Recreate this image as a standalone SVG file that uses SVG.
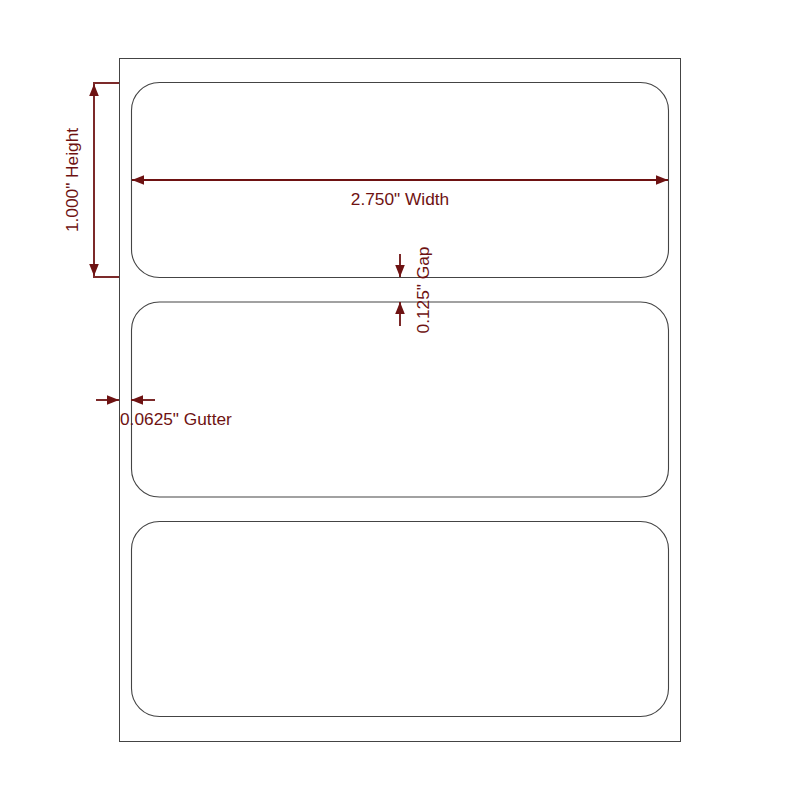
<svg xmlns="http://www.w3.org/2000/svg" width="800" height="800" viewBox="0 0 800 800">
<style>
.page{fill:#fff;stroke:#444;stroke-width:1}
.lbl{fill:#fff;stroke:#444;stroke-width:1.1}
.dim{stroke:#6e1212;stroke-width:1.8;fill:none}
.t{font-family:"Liberation Sans",Arial,sans-serif;font-size:17.3px;fill:#6e1212}
</style>
<defs>
<marker id="a" viewBox="0 0 10 10" refX="10" refY="5" markerWidth="12" markerHeight="12" orient="auto-start-reverse" markerUnits="userSpaceOnUse">
<path d="M0,1 L10,5 L0,9 Z" fill="#6e1212"/>
</marker>
</defs>
<rect id="page" class="page" x="119.5" y="58.5" width="561" height="683"/>
<g id="label1"><rect class="lbl" x="131.5" y="82.5" width="537" height="195" rx="28" ry="28"/></g>
<g id="label2"><rect class="lbl" x="131.5" y="302" width="537" height="195" rx="28" ry="28"/></g>
<g id="label3"><rect class="lbl" x="131.5" y="521.5" width="537" height="195" rx="28" ry="28"/></g>
<g id="connectors">
<line class="dim" x1="93" y1="83" x2="119" y2="83"/>
<line class="dim" x1="93" y1="277" x2="119" y2="277"/>
<line class="dim" x1="94" y1="84" x2="94" y2="276" marker-start="url(#a)" marker-end="url(#a)"/>
<line class="dim" x1="132" y1="180" x2="668" y2="180" marker-start="url(#a)" marker-end="url(#a)"/>
<line class="dim" x1="400" y1="254" x2="400" y2="277" marker-end="url(#a)"/>
<line class="dim" x1="400" y1="326" x2="400" y2="302" marker-end="url(#a)"/>
<line class="dim" x1="96" y1="400" x2="119" y2="400" marker-end="url(#a)"/>
<line class="dim" x1="155" y1="400" x2="131" y2="400" marker-end="url(#a)"/>
</g>
<g id="texts">
<text class="t" x="400" y="205" text-anchor="middle">2.750" Width</text>
<text class="t" transform="translate(78,180) rotate(-90)" text-anchor="middle">1.000" Height</text>
<text class="t" transform="translate(429,290) rotate(-90)" text-anchor="middle">0.125" Gap</text>
<text class="t" x="120" y="425">0.0625" Gutter</text>
</g>
</svg>
